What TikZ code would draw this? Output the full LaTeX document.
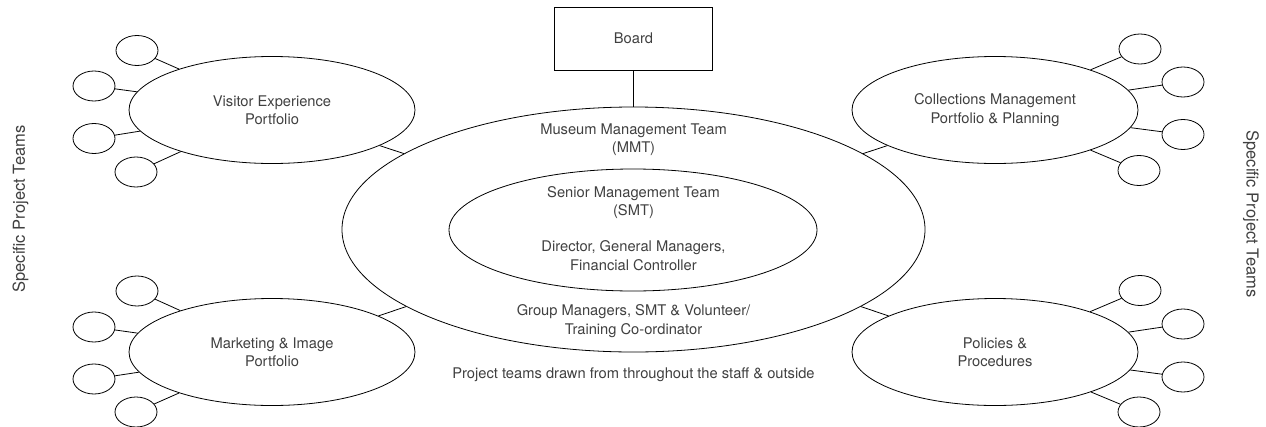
\documentclass[tikz,border=0pt]{standalone}
\usepackage{fontspec}
\setmainfont{TeX Gyre Heros}
\usepackage{tikz}
\usetikzlibrary{shapes.geometric}

\begin{document}
\begin{tikzpicture}[x=1pt, y=-1pt, line width=0.8pt, align=center,
            font=\fontsize{14.7}{18.5}\selectfont, text=black!75]
            \tikzstyle{team}=[draw, ellipse, inner sep=0pt, minimum width=42pt, minimum height=30pt]
            \tikzstyle{portfolio}=[draw, ellipse, inner sep=0pt, minimum width=286pt, minimum height=107pt]
            \tikzstyle{txt}=[inner sep=0pt]
            \tikzstyle{side}=[inner sep=0pt, font=\fontsize{16.5}{19}\selectfont]
            \clip (0,0) rectangle (1266,426);
            \node [draw, rectangle, minimum width=158pt, minimum height=63pt] (board) at (633.5,38.5) {Board};
            \node [draw, ellipse, inner sep=0pt, minimum width=583pt, minimum height=245pt] (mmt) at (633.5,229.5) {};
            \node [draw, ellipse, inner sep=0pt, minimum width=368pt, minimum height=122pt] (smt) at (633,230) {};
            \node [txt] (mmttext) at (633.5,139.5) {Museum Management Team\\(MMT)};
            \node [txt] (smttext) at (633.5,202.5) {Senior Management Team\\(SMT)};
            \node [txt] (smtlist) at (633.5,255.5) {Director, General Managers,\\Financial Controller};
            \node [txt] (grouptext) at (633.5,321) {Group Managers, SMT \& Volunteer/\\Training Co-ordinator};
            \node [txt] (projtext) at (633.5,375) {Project teams drawn from throughout the staff \& outside};
            \draw (board) -- (mmt);
            \node [portfolio] (vis) at (272,110) {Visitor Experience\\Portfolio};
            \node [portfolio] (mkt) at (272,352) {Marketing \& Image\\Portfolio};
            \node [portfolio] (col) at (995,110) {Collections Management\\Portfolio \& Planning};
            \node [portfolio] (pol) at (995,352) {Policies \&\\Procedures};
            \draw (vis) -- (mmt);
            \draw (mkt) -- (mmt);
            \draw (col) -- (mmt);
            \draw (pol) -- (mmt);
            \node [team] (vt1) at (137,50.5) {};
            \node [team] (vt2) at (94,86) {};
            \node [team] (vt3) at (94,138.5) {};
            \node [team] (vt4) at (136,172) {};
            \draw (vt1) -- (vis);
            \draw (vt2) -- (vis);
            \draw (vt3) -- (vis);
            \draw (vt4) -- (vis);
            \node [team] (mk1) at (137,291) {};
            \node [team] (mk2) at (94,327) {};
            \node [team] (mk3) at (94,379) {};
            \node [team] (mk4) at (136,412) {};
            \draw (mk1) -- (mkt);
            \draw (mk2) -- (mkt);
            \draw (mk3) -- (mkt);
            \draw (mk4) -- (mkt);
            \node [team] (cm1) at (1140,49) {};
            \node [team] (cm2) at (1183,82) {};
            \node [team] (cm3) at (1183,134.5) {};
            \node [team] (cm4) at (1139,170.5) {};
            \draw (cm1) -- (col);
            \draw (cm2) -- (col);
            \draw (cm3) -- (col);
            \draw (cm4) -- (col);
            \node [team] (pp1) at (1140,290.5) {};
            \node [team] (pp2) at (1183,324) {};
            \node [team] (pp3) at (1183,377) {};
            \node [team] (pp4) at (1139,412) {};
            \draw (pp1) -- (pol);
            \draw (pp2) -- (pol);
            \draw (pp3) -- (pol);
            \draw (pp4) -- (pol);
            \node [side, rotate=90] (teamsleft) at (20.5,209) {Specific Project Teams};
            \node [side, rotate=-90] (teamsright) at (1251,214) {Specific Project Teams};
\end{tikzpicture}
\end{document}
